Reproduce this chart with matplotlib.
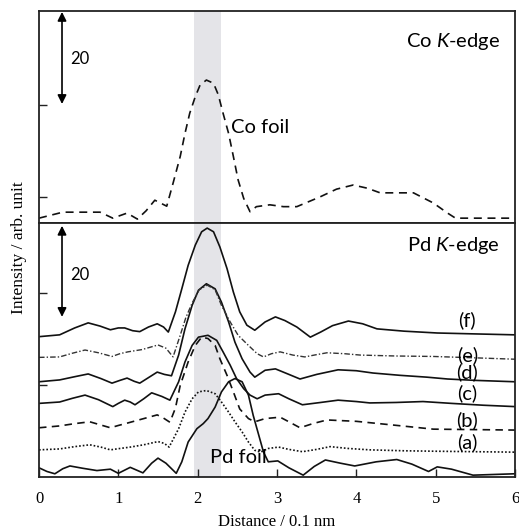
from matplotlib import pyplot as plt

plt.rcParams['mathtext.fontset'] = 'custom'
plt.rcParams['mathtext.rm'] = 'Lato'
plt.rcParams['mathtext.it'] = 'Lato:italic'

SANS = 'Lato'
SERIF = 'Liberation Serif'

# Co K-edge, Co foil
co_r = [0.00, 0.30, 0.55, 0.77, 0.93, 1.11, 1.24, 1.35, 1.46, 1.61, 1.69, 1.78, 1.84, 1.90,
        1.97, 2.03, 2.11, 2.20, 2.26, 2.32, 2.39, 2.45, 2.51, 2.58, 2.66, 2.74, 2.91, 3.08,
        3.25, 3.54, 3.75, 3.96, 4.14, 4.30, 4.72, 4.97, 5.15, 5.25, 6.00]
co_foil = [-4.6, -3.3, -3.3, -3.3, -4.6, -3.5, -4.8, -3.0, -0.7, -2.0, 3.0, 8.8, 13.8, 18.2,
           21.8, 24.3, 25.4, 24.7, 22.2, 18.2, 13.8, 8.8, 3.7, -0.3, -3.2, -2.1, -1.7, -2.1,
           -2.1, 0.0, 1.7, 2.6, 1.9, 0.9, 0.9, -1.3, -3.5, -4.6, -4.6]

# Pd K-edge, samples (a)-(f) and Pd foil
f_r = [0.00, 0.13, 0.26, 0.45, 0.62, 0.77, 0.90, 1.00, 1.08, 1.18, 1.27, 1.38, 1.49, 1.57,
       1.63, 1.72, 1.80, 1.88, 1.97, 2.05, 2.12, 2.20, 2.28, 2.37, 2.45, 2.53, 2.62, 2.72,
       2.85, 2.98, 3.10, 3.25, 3.42, 3.55, 3.70, 3.90, 4.08, 4.26, 4.60, 5.02, 5.50, 6.00]
f_val = [30.5, 30.7, 30.9, 32.4, 33.5, 32.8, 32.0, 32.4, 32.4, 31.8, 31.6, 32.6, 33.3, 32.6,
         31.5, 35.9, 40.9, 46.0, 50.4, 53.3, 54.1, 53.3, 50.0, 45.3, 40.2, 35.9, 33.0, 31.9,
         33.7, 34.8, 34.0, 32.6, 30.4, 31.5, 32.9, 33.9, 33.3, 32.2, 31.7, 31.3, 31.1, 30.9]

e_r = [0.00, 0.26, 0.42, 0.58, 0.75, 0.92, 1.02, 1.12, 1.30, 1.50, 1.60, 1.69, 1.78, 1.85,
       1.93, 2.02, 2.12, 2.22, 2.30, 2.41, 2.51, 2.64, 2.75, 2.83, 2.93, 3.04, 3.20, 3.35,
       3.50, 3.63, 3.85, 4.05, 4.50, 4.97, 5.50, 6.00]
e_val = [26.0, 26.1, 26.9, 27.6, 27.0, 26.2, 26.8, 27.2, 27.7, 28.7, 28.0, 26.1, 30.8, 34.6,
         37.8, 40.7, 41.7, 40.7, 37.3, 33.7, 30.8, 28.6, 26.8, 26.1, 26.8, 27.2, 26.5, 26.1,
         26.6, 27.0, 26.8, 26.5, 26.3, 26.2, 25.9, 25.6]

d_r = [0.00, 0.26, 0.45, 0.62, 0.78, 0.92, 1.02, 1.11, 1.20, 1.27, 1.38, 1.49, 1.58, 1.67,
       1.76, 1.84, 1.93, 2.01, 2.11, 2.22, 2.30, 2.39, 2.47, 2.56, 2.66, 2.72, 2.85, 2.98,
       3.15, 3.29, 3.50, 3.77, 4.00, 4.21, 4.55, 4.89, 5.15, 5.50, 6.00]
d_val = [20.7, 21.1, 21.8, 22.4, 21.4, 20.4, 21.0, 21.5, 20.8, 20.4, 21.6, 22.8, 22.3, 22.0,
         26.5, 32.2, 37.3, 40.6, 42.0, 40.9, 38.0, 33.7, 29.3, 25.7, 22.8, 21.7, 23.2, 23.5,
         22.3, 21.3, 22.3, 23.3, 23.1, 22.6, 22.1, 21.7, 21.3, 21.0, 20.7]

c_r = [0.00, 0.26, 0.42, 0.58, 0.75, 0.93, 1.00, 1.08, 1.15, 1.21, 1.32, 1.42, 1.55, 1.65,
       1.76, 1.84, 1.93, 2.01, 2.13, 2.24, 2.32, 2.41, 2.49, 2.58, 2.66, 2.75, 2.85, 3.02,
       3.15, 3.32, 3.55, 3.77, 4.00, 4.17, 4.50, 4.84, 5.20, 5.60, 6.00]
c_val = [16.0, 16.3, 17.1, 17.8, 16.8, 15.3, 16.0, 16.7, 16.3, 15.7, 17.0, 18.3, 17.5, 16.7,
         20.7, 25.0, 28.6, 30.4, 30.8, 29.7, 27.2, 24.3, 21.4, 19.2, 17.8, 17.0, 17.8, 18.1,
         17.0, 15.7, 16.2, 16.7, 16.4, 16.1, 16.2, 16.4, 16.0, 15.6, 15.3]

b_r = [0.00, 0.26, 0.45, 0.64, 0.78, 0.90, 1.00, 1.11, 1.30, 1.49, 1.57, 1.65, 1.72, 1.78,
       1.88, 1.97, 2.05, 2.13, 2.22, 2.28, 2.37, 2.45, 2.53, 2.64, 2.72, 2.85, 3.04, 3.15,
       3.29, 3.45, 3.63, 4.00, 4.46, 4.97, 5.50, 6.00]
b_val = [10.7, 11.1, 11.6, 12.0, 11.3, 10.7, 11.2, 11.7, 12.6, 13.5, 12.8, 11.9, 15.0, 19.9,
         25.0, 28.6, 30.4, 30.1, 28.6, 25.7, 22.1, 18.5, 14.8, 12.7, 12.0, 12.7, 13.0, 12.0,
         10.7, 11.6, 12.4, 12.1, 11.3, 10.4, 10.3, 10.2]

a_r = [0.00, 0.26, 0.45, 0.64, 0.78, 0.90, 1.02, 1.15, 1.32, 1.50, 1.58, 1.64, 1.76, 1.84,
       1.93, 2.01, 2.11, 2.22, 2.30, 2.39, 2.47, 2.56, 2.64, 2.72, 2.79, 2.89, 3.02, 3.15,
       3.32, 3.50, 3.67, 3.90, 4.17, 4.60, 5.00, 5.50, 6.00]
a_val = [5.9, 6.1, 6.6, 7.0, 6.5, 5.9, 6.2, 6.5, 7.0, 7.7, 7.3, 6.5, 10.5, 14.1,
         17.0, 18.5, 18.8, 18.1, 16.3, 14.1, 12.0, 9.8, 7.6, 5.8, 5.4, 6.2, 6.5, 6.0,
         5.5, 6.0, 6.6, 6.2, 5.9, 5.7, 5.6, 5.5, 5.4]

pd_r = [0.00, 0.10, 0.20, 0.30, 0.39, 0.55, 0.73, 0.90, 1.00, 1.15, 1.31, 1.42, 1.50, 1.60,
        1.73, 1.80, 1.88, 1.99, 2.07, 2.13, 2.22, 2.30, 2.39, 2.47, 2.56, 2.64, 2.70, 2.77,
        2.83, 2.89, 3.01, 3.15, 3.33, 3.47, 3.61, 3.80, 3.98, 4.25, 4.51, 4.70, 4.91, 5.02,
        5.20, 5.47, 6.00]
pd_foil = [2.0, 1.2, 0.7, 1.8, 2.4, 1.9, 1.4, 1.7, 0.8, 2.1, 0.9, 3.0, 4.1, 3.0,
           0.8, 3.3, 7.6, 10.5, 11.6, 12.7, 15.2, 18.5, 20.7, 21.4, 20.7, 17.8, 13.4, 9.1,
           5.4, 3.3, 3.5, 2.0, 0.4, 2.3, 3.7, 3.0, 2.4, 3.3, 3.8, 2.8, 1.2, 2.2,
           1.7, 0.4, 0.7]

sample_labels = ['(a)', '(b)', '(c)', '(d)', '(e)', '(f)']
sample_label_y = [7.6, 12.4, 18.3, 22.8, 26.5, 34.1]

band = (1.95, 2.30)
W, H = 519, 529

fig = plt.figure(figsize=(W / 100, H / 100), dpi=100)
ax_co = fig.add_axes([39 / W, 1 - 223.5 / H, 476 / W, 212.5 / H])
ax_pd = fig.add_axes([39 / W, 1 - 477 / H, 476 / W, 253.5 / H])

line_kw = dict(color='#111111', lw=1.2, solid_joinstyle='round', dash_joinstyle='round',
               solid_capstyle='round')

# upper panel
ax_co.axvspan(*band, color='#e4e4e8', lw=0, zorder=0)
ax_co.plot(co_r, co_foil, dashes=(4.8, 3.4), **line_kw)
ax_co.set_xlim(0, 6)
ax_co.set_ylim(-5.76, 40.4)
ax_co.set_yticks([0, 20])
ax_co.set_yticklabels([])
ax_co.set_xticks([])
ax_co.annotate('', xy=(0.29, 40.2), xytext=(0.29, 20.2),
               arrowprops=dict(arrowstyle='<|-|>', mutation_scale=13, color='k', lw=1.2,
                               shrinkA=0, shrinkB=0))
ax_co.text(0.39, 30, '20', family=SANS, fontsize=12, va='center', ha='left')
ax_co.text(5.81, 33.7, 'Co $K$-edge', family=SANS, fontsize=14.5, va='center', ha='right')
ax_co.text(2.42, 15.2, 'Co foil', family=SANS, fontsize=14.5, va='center', ha='left')

# lower panel
ax_pd.axvspan(*band, color='#e4e4e8', lw=0, zorder=0)
ax_pd.plot(pd_r, pd_foil, **line_kw)
ax_pd.plot(a_r, a_val, dashes=(1.0, 1.2), **line_kw)
ax_pd.plot(b_r, b_val, dashes=(4.5, 3.2), **line_kw)
ax_pd.plot(c_r, c_val, **line_kw)
ax_pd.plot(d_r, d_val, **line_kw)
ax_pd.plot(e_r, e_val, color='#333333', lw=1.0, dashes=(4, 1.5, 1, 1.5))
ax_pd.plot(f_r, f_val, **line_kw)
for lab, y in zip(sample_labels, sample_label_y):
    ax_pd.text(5.40, y, lab, family=SANS, fontsize=14.5, va='center', ha='center')
ax_pd.set_xlim(0, 6)
ax_pd.set_ylim(0, 55.1)
ax_pd.set_yticks([20, 40])
ax_pd.set_yticklabels([])
ax_pd.set_xticks(range(7))
ax_pd.set_xticklabels([str(i) for i in range(7)], family=SERIF, fontsize=12)
ax_pd.tick_params(axis='x', pad=10)
ax_pd.annotate('', xy=(0.29, 54.6), xytext=(0.29, 34.8),
               arrowprops=dict(arrowstyle='<|-|>', mutation_scale=13, color='k', lw=1.2,
                               shrinkA=0, shrinkB=0))
ax_pd.text(0.39, 44, '20', family=SANS, fontsize=12, va='center', ha='left')
ax_pd.text(5.81, 50.4, 'Pd $K$-edge', family=SANS, fontsize=14.5, va='center', ha='right')
ax_pd.text(2.16, 4.3, 'Pd foil', family=SANS, fontsize=14.5, va='center', ha='left')
ax_pd.set_xlabel('Distance / 0.1 nm', family=SERIF, fontsize=12, labelpad=5)

for ax in (ax_co, ax_pd):
    ax.tick_params(direction='in', length=6, width=1.0, color='#222222')
    for sp in ax.spines.values():
        sp.set_linewidth(1.3)
        sp.set_color('#222222')

fig.text(19 / W, 1 - 248 / H, 'Intensity / arb. unit', family=SERIF, fontsize=12.5,
         rotation=90, va='center', ha='center')

plt.savefig('out.png', dpi=100)
